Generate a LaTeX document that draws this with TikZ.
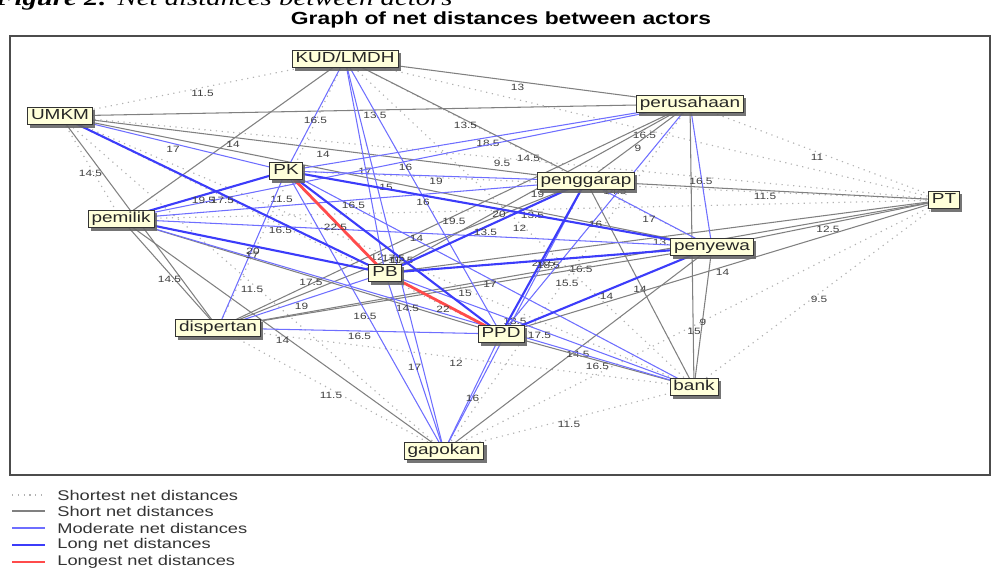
\documentclass[tikz,border=0pt]{standalone}
\usepackage{fontspec}
\setmainfont{Liberation Sans}[FakeStretch=1.3]
\newfontfamily\capfont{Liberation Serif}[FakeStretch=1.3]
\usetikzlibrary{shadows}
\definecolor{actorfill}{RGB}{255,255,218}
\definecolor{modblue}{RGB}{110,110,255}
\definecolor{longblue}{RGB}{60,60,250}
\definecolor{longred}{RGB}{255,75,75}
\pgfdeclarelayer{edges}
\pgfsetlayers{edges,main}

\begin{document}
\begin{tikzpicture}[x=0.02cm, y=-0.02cm,
        actor/.style={rectangle, draw=black!80, fill=actorfill, line width=0.5pt, font=\fontsize{8.3}{9}\selectfont, text=black!85, inner xsep=2pt, inner ysep=1pt, text height=6.3pt, text depth=1.8pt, drop shadow={shadow xshift=1.5pt, shadow yshift=-1.5pt, fill=black!60, opacity=0.9}},
        shortest/.style={gray!60, line width=0.65pt, dash pattern=on 0.7pt off 2.6pt},
        shortline/.style={gray, line width=0.6pt},
        moderate/.style={modblue, line width=0.6pt},
        longline/.style={longblue, line width=1.2pt},
        longest/.style={longred, line width=1.6pt},
        dist/.style={midway, yshift=-0.11cm, font=\fontsize{5.2}{5.2}\selectfont, inner sep=0pt, text=black!75},
        legend/.style={anchor=west, font=\fontsize{8}{9}\selectfont, text=black!80, inner sep=0pt}]

    \useasboundingbox (0,0) rectangle (1000,570);

    \node (caption) [anchor=base west, inner sep=0pt, font=\capfont\fontsize{12.6}{15}\selectfont] at (-5,6) {\textbf{\textit{Figure 2:}} \textit{Net distances between actors}};
    \node (title) [font=\bfseries\fontsize{10}{12}\selectfont] at (501,20) {Graph of net distances between actors};
    \draw [gray!60!black, line width=0.9pt] (10,36) rectangle (990,475);

    \node (kud) [actor] at (345,59) {KUD/LMDH};
    \node (umkm) [actor] at (60,116) {UMKM};
    \node (perus) [actor] at (690,104) {perusahaan};
    \node (pk) [actor] at (286,171) {PK};
    \node (pengg) [actor] at (586,181) {penggarap};
    \node (pt) [actor] at (944,200) {PT};
    \node (pemilik) [actor] at (121,219) {pemilik};
    \node (penyewa) [actor] at (712,247) {penyewa};
    \node (pb) [actor] at (385,273) {PB};
    \node (disp) [actor] at (218,328) {dispertan};
    \node (ppd) [actor] at (501,334) {PPD};
    \node (bank) [actor] at (694,387) {bank};
    \node (gapok) [actor] at (444,451) {gapokan};

    \begin{pgfonlayer}{edges}
    \draw [shortest] (kud.center) -- (umkm.center) node [dist] {11.5};
    \draw [shortest] (kud.center) -- (pt.center) node [dist] {16.5};
    \draw [shortest] (kud.center) -- (penyewa.center) node [dist] {14.5};
    \draw [shortest] (kud.center) -- (disp.center) node [dist] {11.5};
    \draw [shortest] (kud.center) -- (bank.center) node [dist] {12};
    \draw [shortest] (umkm.center) -- (pt.center) node [dist] {9.5};
    \draw [shortest] (umkm.center) -- (pemilik.center) node [dist] {14.5};
    \draw [shortest] (umkm.center) -- (ppd.center) node [dist] {16.5};
    \draw [shortest] (umkm.center) -- (bank.center) node [dist] {12};
    \draw [shortest] (umkm.center) -- (gapok.center) node [dist] {11.5};
    \draw [shortest] (perus.center) -- (pt.center) node [dist] {11};
    \draw [shortest] (perus.center) -- (gapok.center) node [dist] {15.5};
    \draw [shortest] (pk.center) -- (pt.center) node [dist] {14.5};
    \draw [shortest] (pt.center) -- (pemilik.center) node [dist] {13.5};
    \draw [shortest] (pt.center) -- (bank.center) node [dist] {9.5};
    \draw [shortest] (pt.center) -- (gapok.center) node [dist] {15};
    \draw [shortest] (disp.center) -- (bank.center) node [dist] {12};
    \draw [shortest] (disp.center) -- (gapok.center) node [dist] {11.5};
    \draw [shortest] (bank.center) -- (gapok.center) node [dist] {11.5};

    \draw [shortline] (kud.center) -- (perus.center) node [dist] {13};
    \draw [shortline] (kud.center) -- (pengg.center) node [dist] {13.5};
    \draw [shortline] (kud.center) -- (pemilik.center) node [dist] {14};
    \draw [shortline] (umkm.center) -- (perus.center) node [dist] {13.5};
    \draw [shortline] (umkm.center) -- (pengg.center) node [dist] {14};
    \draw [shortline] (umkm.center) -- (penyewa.center) node [dist] {15};
    \draw [shortline] (umkm.center) -- (disp.center);
    \draw [shortline] (perus.center) -- (pengg.center) node [dist] {9};
    \draw [shortline] (perus.center) -- (pb.center) node [dist] {19};
    \draw [shortline] (perus.center) -- (disp.center) node [dist] {19.5};
    \draw [shortline] (perus.center) -- (bank.center);
    \draw [shortline] (pengg.center) -- (pt.center) node [dist] {11.5};
    \draw [shortline] (pengg.center) -- (disp.center) node [dist] {17.5};
    \draw [shortline] (pengg.center) -- (bank.center) node [dist] {14};
    \draw [shortline] (pt.center) -- (penyewa.center) node [dist] {12.5};
    \draw [shortline] (pt.center) -- (pb.center) node [dist] {13.5};
    \draw [shortline] (pt.center) -- (disp.center) node [dist] {16.5};
    \draw [shortline] (pt.center) -- (ppd.center) node [dist] {14};
    \draw [shortline] (pemilik.center) -- (disp.center) node [dist] {14.5};
    \draw [shortline] (pemilik.center) -- (ppd.center) node [dist] {17.5};
    \draw [shortline] (pemilik.center) -- (gapok.center) node [dist] {14};
    \draw [shortline] (penyewa.center) -- (disp.center) node [dist] {15};
    \draw [shortline] (penyewa.center) -- (bank.center) node [dist] {9};
    \draw [shortline] (penyewa.center) -- (gapok.center) node [dist] {14.5};
    \draw [shortline] (ppd.center) -- (bank.center) node [dist] {16.5};

    \draw [moderate] (kud.center) -- (pk.center) node [dist] {16.5};
    \draw [moderate] (kud.center) -- (pb.center) node [dist] {17};
    \draw [moderate] (kud.center) -- (ppd.center) node [dist] {16};
    \draw [moderate] (kud.center) -- (gapok.center) node [dist] {11};
    \draw [moderate] (umkm.center) -- (pk.center) node [dist] {17};
    \draw [moderate] (perus.center) -- (pk.center) node [dist] {18.5};
    \draw [moderate] (perus.center) -- (pemilik.center) node [dist] {16};
    \draw [moderate] (perus.center) -- (penyewa.center) node [dist] {16.5};
    \draw [moderate] (perus.center) -- (ppd.center) node [dist] {16};
    \draw [moderate] (pk.center) -- (pengg.center) node [dist] {19};
    \draw [moderate] (pk.center) -- (disp.center) node [dist] {17};
    \draw [moderate] (pk.center) -- (bank.center) node [dist] {17};
    \draw [moderate] (pk.center) -- (gapok.center) node [dist] {16.5};
    \draw [moderate] (pengg.center) -- (pemilik.center) node [dist] {16.5};
    \draw [moderate] (pengg.center) -- (penyewa.center) node [dist] {17};
    \draw [moderate] (pengg.center) -- (gapok.center) node [dist] {13.5};
    \draw [moderate] (pemilik.center) -- (penyewa.center) node [dist] {14};
    \draw [moderate] (pemilik.center) -- (bank.center) node [dist] {14.5};
    \draw [moderate] (pb.center) -- (disp.center) node [dist] {19};
    \draw [moderate] (pb.center) -- (bank.center) node [dist] {17.5};
    \draw [moderate] (pb.center) -- (gapok.center) node [dist] {17};
    \draw [moderate] (disp.center) -- (ppd.center) node [dist] {16.5};
    \draw [moderate] (ppd.center) -- (gapok.center) node [dist] {16};

    \draw [longline] (umkm.center) -- (pb.center) node [dist] {17.5};
    \draw [longline] (pk.center) -- (pemilik.center) node [dist] {19.5};
    \draw [longline] (pk.center) -- (penyewa.center) node [dist] {20};
    \draw [longline] (pk.center) -- (ppd.center) node [dist] {17.5};
    \draw [longline] (pengg.center) -- (pb.center) node [dist] {13.5};
    \draw [longline] (pengg.center) -- (ppd.center) node [dist] {20.5};
    \draw [longline] (pemilik.center) -- (pb.center) node [dist] {20};
    \draw [longline] (penyewa.center) -- (pb.center) node [dist] {18.5};
    \draw [longline] (penyewa.center) -- (ppd.center) node [dist] {14};

    \draw [longest] (pk.center) -- (pb.center) node [dist] {22.5};
    \draw [longest] (pb.center) -- (ppd.center) node [dist] {22};
    \end{pgfonlayer}

    \draw [shortest] (12,495) -- (45,495);
    \draw [shortline] (12,511) -- (45,511);
    \draw [moderate] (12,528) -- (45,528);
    \draw [longline] (12,545) -- (45,545);
    \draw [longest] (12,562) -- (45,562);
    \node (legshortest) [legend] at (57,495) {Shortest net distances};
    \node (legshort) [legend] at (57,511) {Short net distances};
    \node (legmoderate) [legend] at (57,528) {Moderate net distances};
    \node (leglong) [legend] at (57,545) {Long net distances};
    \node (leglongest) [legend] at (57,562) {Longest net distances};
\end{tikzpicture}
\end{document}
